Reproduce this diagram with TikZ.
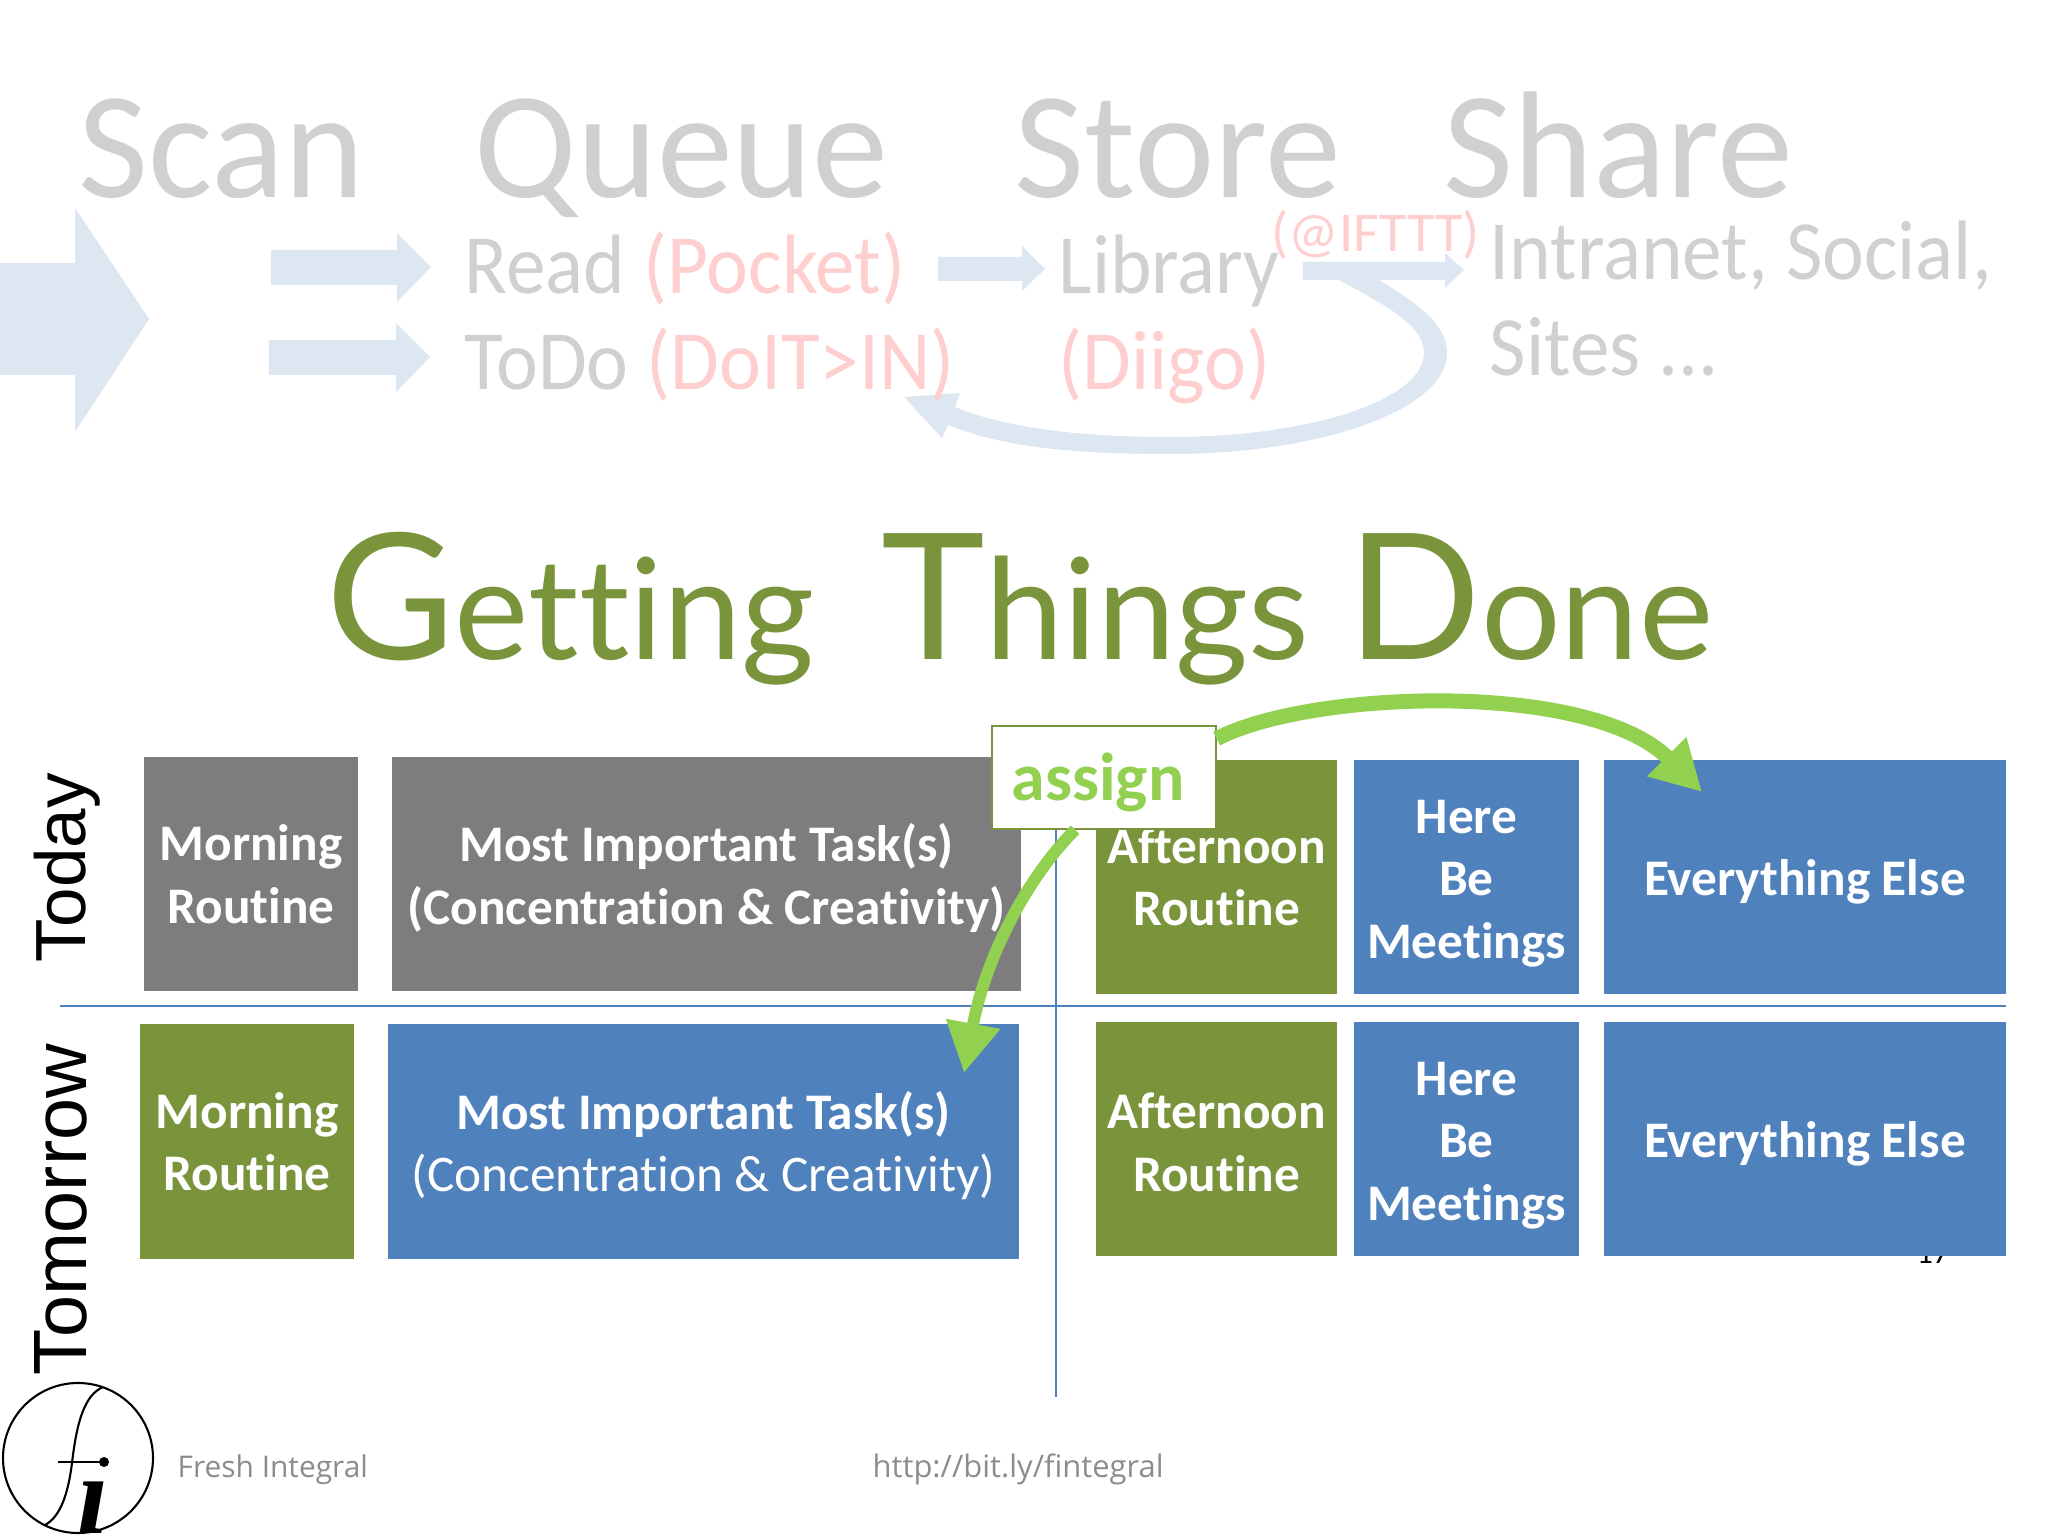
\documentclass[tikz,border=0pt]{standalone}
\usepackage{fontspec}
\setmainfont{Carlito}[Ligatures=NoCommon]
\newfontfamily\toolfont{Carlito}[Ligatures=NoCommon,FakeStretch=0.94]
\newfontfamily\sidefont{Liberation Sans}
\newfontfamily\titlefont{Lato}[Ligatures=NoCommon]
\newfontfamily\footfont{Open Sans}
\newfontfamily\logofont{Liberation Serif}
\usetikzlibrary{arrows.meta}
\definecolor{fadegray}{HTML}{D0D0D0}
\definecolor{fadepink}{HTML}{FFCFCF}
\definecolor{fadeblue}{HTML}{DDE7F2}
\definecolor{taskgray}{HTML}{7F7C80}
\definecolor{taskgreen}{HTML}{7A943C}
\definecolor{taskblue}{HTML}{4F81BD}
\definecolor{assigngreen}{HTML}{92D050}
\newcommand{\droptext}[1]{\rule{0pt}{#1}}
\tikzset{
	taskbox/.style={fill=#1,text=white,font=\fontsize{14.6}{17.8}\selectfont\bfseries,align=center,inner sep=0pt,execute at begin node={\rule{0pt}{12.8pt}}},
	headword/.style={anchor=base west,inner sep=0pt,text=fadegray,font=\fontsize{43.3}{50}\selectfont},
	toolword/.style={anchor=base west,inner sep=0pt,text=fadegray,font=\fontsize{24}{28}\toolfont},
	sideword/.style={rotate=90,inner sep=0pt,font=\fontsize{#1}{24}\sidefont},
	footword/.style={anchor=base west,inner sep=0pt,text=gray!90,font=\fontsize{#1}{10}\footfont},
	greenarrow/.style={draw=assigngreen,line width=#1,-{Triangle[length=0.5cm,width=0.52cm]}},
}
\begin{document}
\begin{tikzpicture}
	\path[use as bounding box] (0,-15.36) rectangle (20.48,0);
	
	\node[headword] (scan) at (0.78,-1.98) {Scan};
	\node[headword] (queue) at (4.74,-1.98) {Queue};
	\node[headword] (store) at (10.14,-1.98) {Store};
	\node[headword] (share) at (14.43,-1.98) {Share};
	
	\fill[fadeblue] (0,-2.63) -- (0.75,-2.63) -- (0.75,-2.08) -- (1.49,-3.19) -- (0.75,-4.32) -- (0.75,-3.75) -- (0,-3.75) -- cycle;
	\fill[fadeblue] (2.71,-2.5) -- (3.97,-2.5) -- (3.97,-2.33) -- (4.31,-2.67) -- (3.97,-3.02) -- (3.97,-2.85) -- (2.71,-2.85) -- cycle;
	\fill[fadeblue] (2.69,-3.4) -- (3.96,-3.4) -- (3.96,-3.23) -- (4.3,-3.57) -- (3.96,-3.92) -- (3.96,-3.75) -- (2.69,-3.75) -- cycle;
	\fill[fadeblue] (9.38,-2.57) -- (10.22,-2.57) -- (10.22,-2.46) -- (10.45,-2.69) -- (10.22,-2.91) -- (10.22,-2.81) -- (9.38,-2.81) -- cycle;
	
	% loop back
	\fill[fadeblue] (13.79,-2.8) .. controls (14.2,-3.05) and (14.47,-3.25) .. (14.47,-3.53) .. controls (14.47,-4.1) and (13.2,-4.54) .. (11.71,-4.54) .. controls (10.9,-4.54) and (10.1,-4.5) .. (9.48,-4.25) -- (9.42,-4.38) -- (9.04,-3.97) -- (9.6,-3.93) -- (9.55,-4.07) .. controls (10.1,-4.3) and (10.9,-4.37) .. (11.71,-4.37) .. controls (13.1,-4.37) and (14.24,-4) .. (14.24,-3.53) .. controls (14.24,-3.25) and (13.85,-3.05) .. (13.39,-2.8) -- cycle;
	\fill[fadeblue] (13.03,-2.62) -- (14.45,-2.62) -- (14.45,-2.53) -- (14.64,-2.7) -- (14.45,-2.88) -- (14.45,-2.8) -- (13.03,-2.8) -- cycle;
	
	\node[toolword] (read) at (4.64,-2.94) {Read \textcolor{fadepink}{(Pocket)}};
	\node[toolword] (todo) at (4.64,-3.9) {ToDo \textcolor{fadepink}{(DoIT>IN)}};
	\node[toolword] (library) at (10.58,-2.94) {Library};
	\node[toolword] (diigo) at (10.58,-3.9) {\textcolor{fadepink}{(Diigo)}};
	\node[toolword,text=fadepink,font=\fontsize{16}{20}\selectfont] (ifttt) at (12.71,-2.52) {(@IFTTT)};
	\node[toolword] (intranet) at (14.89,-2.8) {Intranet, Social,};
	\node[toolword] (sites) at (14.89,-3.76) {Sites ...};
	
	\node[anchor=base,inner sep=0pt,text=taskgreen,font=\fontsize{40}{48}\titlefont] (title) at (10.2,-6.6) {{\fontsize{50}{60}\selectfont G}etting\hspace{19pt}{\fontsize{50}{60}\selectfont T}hings\hspace{10.7pt}{\fontsize{50}{60}\selectfont D}one};
	
	\node[sideword=20.2] (today) at (0.67,-8.68) {Today};
	\node[sideword=21.5] (tomorrow) at (0.61,-12.1) {Tomorrow};
	
	% page number behind the box
	\node[anchor=base,inner sep=0pt,font=\fontsize{9}{10}\selectfont] (page) at (19.33,-12.63) {17};
	
	\node[taskbox=taskgray,minimum width=2.14cm,minimum height=2.34cm] (morningA) at (2.51,-8.74) {Morning\\Routine};
	\node[taskbox=taskgray,minimum width=6.29cm,minimum height=2.34cm] (taskA) at (7.065,-8.74) {\droptext{13.2pt}Most Important Task(s)\\(Concentration \& Creativity)};
	\node[taskbox=taskgreen,minimum width=2.41cm,minimum height=2.34cm] (afternoonA) at (12.165,-8.77) {Afternoon\\Routine};
	\node[taskbox=taskblue,minimum width=2.25cm,minimum height=2.34cm] (meetingA) at (14.665,-8.77) {\droptext{13.1pt}Here\\Be\\Meetings};
	\node[taskbox=taskblue,minimum width=4.02cm,minimum height=2.34cm] (elseA) at (18.05,-8.77) {Everything Else};
	
	\node[taskbox=taskgreen,minimum width=2.14cm,minimum height=2.35cm] (morningB) at (2.47,-11.415) {Morning\\Routine};
	\node[taskbox=taskblue,minimum width=6.31cm,minimum height=2.35cm] (taskB) at (7.035,-11.415) {\droptext{13.2pt}Most Important Task(s)\\\mdseries(Concentration \& Creativity)};
	\node[taskbox=taskgreen,minimum width=2.41cm,minimum height=2.34cm] (afternoonB) at (12.165,-11.39) {\droptext{12pt}Afternoon\\Routine};
	\node[taskbox=taskblue,minimum width=2.25cm,minimum height=2.34cm] (meetingB) at (14.665,-11.39) {\droptext{13.1pt}Here\\Be\\Meetings};
	\node[taskbox=taskblue,minimum width=4.02cm,minimum height=2.34cm] (elseB) at (18.05,-11.39) {Everything Else};
	
	\coordinate (rowleft) at (0.6,-10.06);
	\coordinate (rowright) at (20.06,-10.06);
	\coordinate (coltop) at (10.56,-8.2);
	\coordinate (colbottom) at (10.56,-13.97);
	\draw[taskblue,line width=0.6pt] (rowleft) -- (rowright);
	\draw[taskblue,line width=0.6pt] (coltop) -- (colbottom);
	
	\node[draw=taskgreen,fill=white,text=assigngreen,minimum width=2.24cm,minimum height=1.03cm,inner sep=0pt,font=\fontsize{19.3}{22}\selectfont\bfseries,execute at begin node={\rule{0pt}{16.5pt}}] (assign) at (11.04,-7.775) {assign\hspace*{0.12cm}};
	\coordinate (elsetip) at (17.02,-7.92);
	\coordinate (tasktip) at (9.64,-10.73);
	\draw[greenarrow=0.15cm] (assign.19) .. controls (13.1,-6.9) and (15.9,-6.8) .. (elsetip);
	\draw[greenarrow=0.12cm] (assign.241) .. controls (10.25,-8.8) and (9.85,-9.6) .. (tasktip);
	
	% logo
	\draw[line width=0.6pt] (0.78,-14.58) circle (0.75);
	\draw[line width=0.6pt] (1.03,-13.87) .. controls (0.85,-13.95) and (0.77,-14.2) .. (0.72,-14.63) .. controls (0.68,-14.95) and (0.6,-15.17) .. (0.45,-15.25);
	\coordinate (logobar) at (0.58,-14.62);
	\fill (1.04,-14.62) circle (0.05) coordinate (logodot);
	\draw[line width=0.6pt] (logobar) -- (logodot);
	\node[anchor=base,inner sep=0pt,font=\fontsize{32}{36}\logofont\bfseries\itshape] (logoi) at (0.93,-15.33) {ı};
	
	\node[footword=8.5] (fresh) at (1.77,-14.77) {Fresh Integral};
	\node[footword=8.8] (link) at (8.72,-14.77) {http://bit.ly/fintegral};
\end{tikzpicture}
\end{document}
